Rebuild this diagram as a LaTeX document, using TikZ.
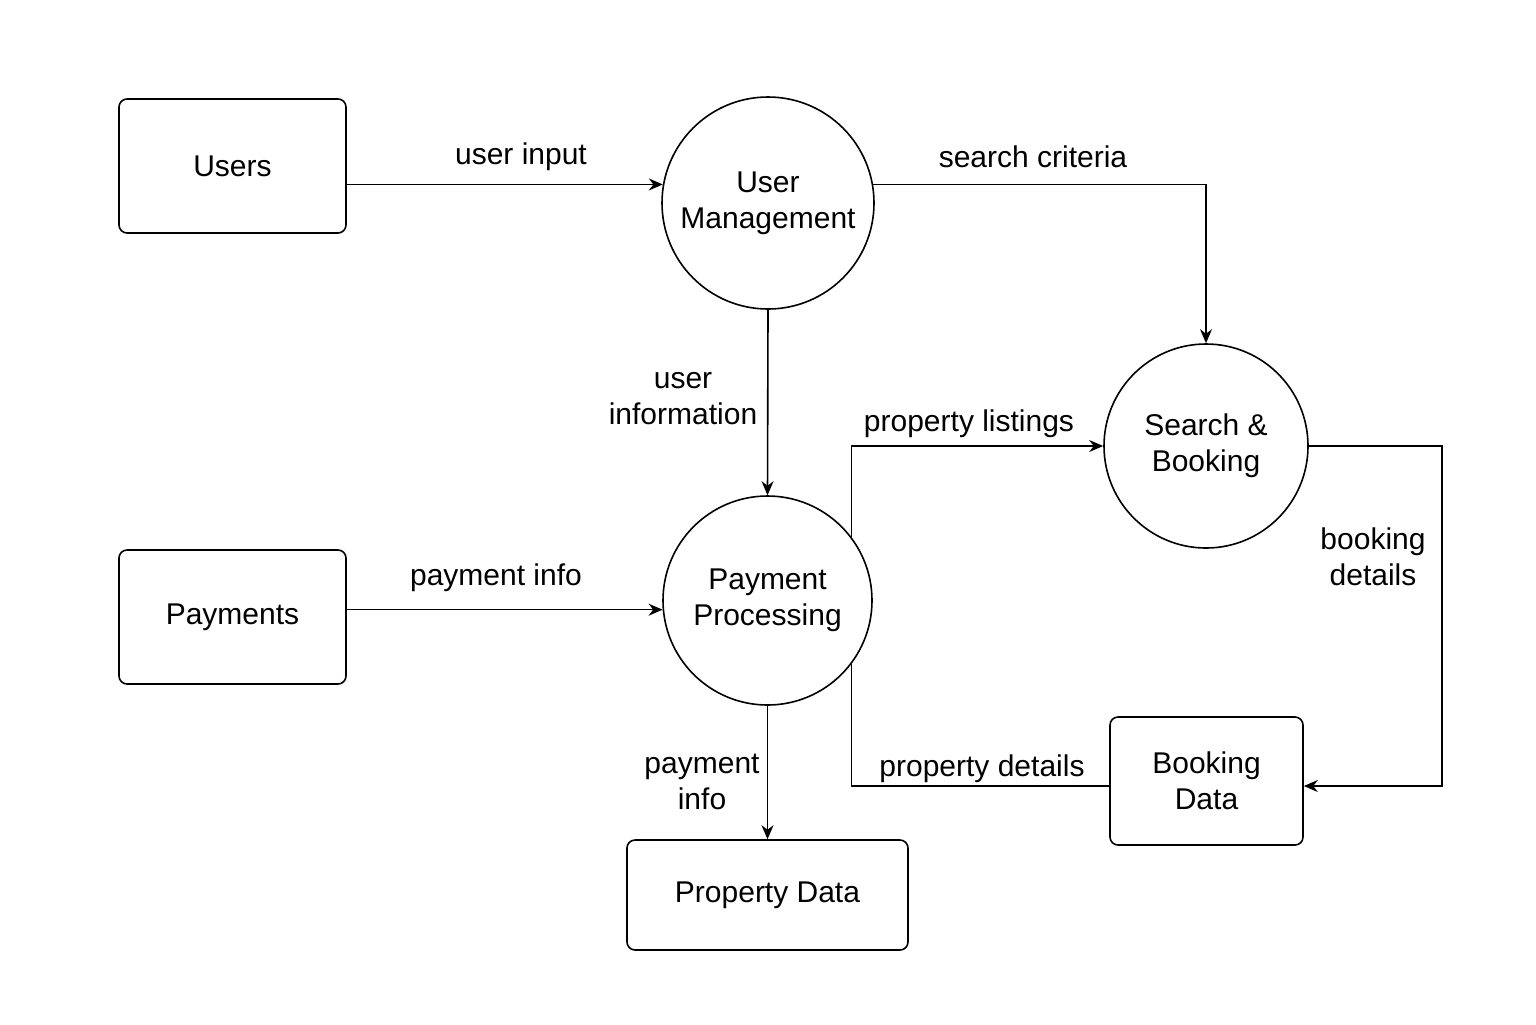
\documentclass[tikz,border=0pt]{standalone}
\usepackage{fontspec}
\setmainfont{Liberation Sans}
\usetikzlibrary{arrows.meta}
\tikzset{
 store/.style={draw, rectangle, rounded corners=4pt, align=center, inner sep=0},
 proc/.style={draw, circle, align=center, inner sep=0},
 flow/.style={->, >={Stealth[length=7pt,width=6pt]}},
 lbl/.style={align=center, inner sep=1}
}

\begin{document}
\begin{tikzpicture}[x=0.5pt, y=-0.5pt, line width=0.8pt, font=\fontsize{15}{18}\selectfont]
\useasboundingbox (0,0) rectangle (1536,1024);

% stores
\node[store, minimum width=113.5pt, minimum height=67pt] (users) at (232.5,166) {Users};
\node[store, minimum width=113.5pt, minimum height=67pt] (pay) at (232.5,617) {Payments};
\node[store, minimum width=96.5pt, minimum height=64pt] (bdata) at (1206.5,781) {Booking\\Data};
\node[store, minimum width=140.5pt, minimum height=55pt] (pdata) at (767.5,895) {Property Data};

% processes
\node[proc, minimum size=106pt] (um) at (768,203) {User\\Management};
\node[proc, minimum size=104.5pt] (pp) at (767.5,600.5) {Payment\\Processing};
\node[proc, minimum size=102pt] (sb) at (1206,446) {Search \&\\Booking};

% flows
\draw[flow] (um.170 -| users.east) -- (um.170);
\draw[flow] (um.10) -| (sb.north);
\draw[flow] (um.south) -- (pp.north);
\draw[flow] (pp.185 -| pay.east) -- (pp.185);
\draw[flow] (pp.south) -- (pdata.north);
\draw[flow] (pp.37) |- (sb.west);
\draw ([yshift=-2.5pt]bdata.west) -| (pp.-37);
\draw[flow] (sb.east) -- (1442,446) |- ([yshift=-2.5pt]bdata.east);

% labels
\node[lbl] (l1) at (521,157) {user input};
\node[lbl] (l2) at (1033,157) {search criteria};
\node[lbl] (l3) at (683,399) {user\\information};
\node[lbl] (l4) at (496,578) {payment info};
\node[lbl] (l5) at (702,782) {payment\\info};
\node[lbl] (l6) at (969,424) {property listings};
\node[lbl] (l7) at (982,769) {property details};
\node[lbl] (l8) at (1373,557) {booking\\details};
\end{tikzpicture}
\end{document}
